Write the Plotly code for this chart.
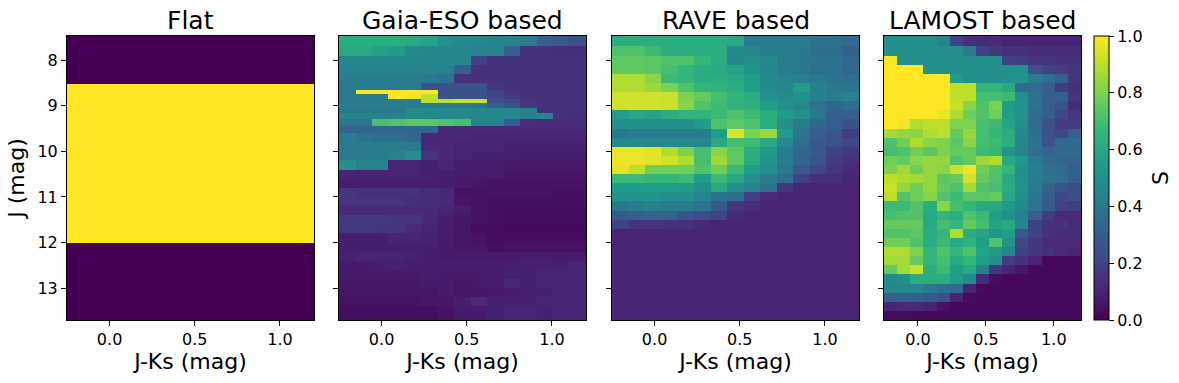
import plotly.graph_objects as go

titles = ["Flat", "Gaia-ESO based", "RAVE based", "LAMOST based"]
x_label = "J-Ks (mag)"
y_label = "J (mag)"
cbar_label = "S"
x_ticks = [0.0, 0.5, 1.0]
y_ticks = [8, 9, 10, 11, 12, 13]
cbar_ticks = [0.0, 0.2, 0.4, 0.6, 0.8, 1.0]

x_edges = [-0.25, -0.153, -0.057, 0.04, 0.137, 0.233, 0.33, 0.427, 0.523, 0.62, 0.717, 0.813, 0.91, 1.007, 1.103, 1.2]
y_edges = [7.47, 7.7, 7.9, 8.1, 8.3, 8.5, 8.7, 8.9, 9.1, 9.3, 9.5, 9.7, 9.9, 10.1, 10.3, 10.5, 10.7, 10.9, 11.1, 11.3,
           11.5, 11.7, 11.9, 12.1, 12.3, 12.5, 12.7, 12.9, 13.1, 13.3, 13.5, 13.7]

flat_x_edges = [-0.25, 1.2]
flat_y_edges = [7.47, 8.53, 12.0, 13.7]
flat_values = [[0.0], [1.0], [0.0]]

gaia_y_edges = [7.47, 7.7, 7.9, 8.1, 8.3, 8.5, 8.65, 8.75, 8.85, 8.95, 9.05, 9.15, 9.3, 9.45, 9.6, 9.8, 10.0, 10.2, 10.4,
                10.6, 10.8, 11.0, 11.2, 11.4, 11.6, 11.8, 12.0, 12.2, 12.4, 12.6, 12.8, 13.0, 13.2, 13.4, 13.7]
gaia_values = [
    [.62, .62, .62, .62, .6, .58, .5, .48, .47, .45, .45, .42, .3, .28, .25],
    [.6, .6, .57, .55, .48, .47, .47, .46, .45, .45, .3, .14, .14, .13, .13],
    [.46, .46, .46, .46, .46, .46, .46, .46, .2, .14, .14, .14, .14, .14, .14],
    [.45, .45, .45, .45, .45, .45, .44, .3, .14, .14, .14, .14, .14, .14, .14],
    [.42, .42, .42, .42, .42, .41, .38, .14, .14, .14, .14, .14, .14, .14, .14],
    [.42, .42, .42, .42, .42, .25, .25, .25, .25, .15, .14, .14, .14, .14, .14],
    [.42, 1, 1, 1, 1, 1, .25, .25, .25, .2, .15, .14, .14, .14, .14],
    [.42, .42, .42, 1, .98, .9, .25, .25, .25, .22, .18, .14, .14, .14, .14],
    [.42, .42, .42, .42, .43, .9, .9, .92, .92, .25, .22, .16, .14, .14, .14],
    [.42, .42, .42, .42, .42, .42, .42, .42, .4, .32, .25, .16, .14, .14, .14],
    [.4, .4, .4, .4, .48, .47, .47, .47, .47, .47, .47, .45, .14, .14, .14],
    [.45, .45, .45, .45, .47, .47, .47, .47, .47, .47, .46, .45, .46, .14, .13],
    [.38, .38, .7, .72, .74, .74, .72, .7, .45, .45, .3, .13, .12, .12, .12],
    [.32, .32, .33, .33, .33, .33, .11, .11, .11, .11, .11, .11, .11, .11, .11],
    [.42, .38, .36, .36, .33, .11, .11, .11, .1, .1, .1, .1, .1, .1, .1],
    [.42, .42, .42, .42, .42, .11, .11, .1, .1, .1, .09, .09, .09, .09, .09],
    [.42, .42, .42, .45, .5, .15, .11, .1, .09, .09, .09, .08, .08, .08, .08],
    [.5, .45, .45, .1, .1, .09, .1, .08, .08, .08, .07, .07, .07, .07, .07],
    [.1, .1, .1, .1, .1, .09, .08, .07, .07, .07, .06, .06, .06, .06, .06],
    [.08, .08, .08, .08, .08, .08, .08, .07, .06, .05, .05, .05, .05, .05, .05],
    [.16, .14, .14, .14, .14, .12, .11, .05, .05, .05, .05, .05, .05, .04, .04],
    [.15, .15, .15, .15, .13, .12, .11, .06, .05, .04, .04, .04, .04, .04, .04],
    [.11, .11, .11, .11, .11, .11, .1, .08, .05, .04, .03, .03, .03, .03, .03],
    [.17, .17, .17, .16, .15, .11, .08, .06, .05, .04, .03, .03, .03, .03, .03],
    [.17, .17, .16, .15, .12, .1, .08, .06, .03, .03, .02, .02, .02, .02, .02],
    [.08, .08, .08, .1, .1, .09, .07, .06, .05, .03, .03, .03, .03, .03, .03],
    [.08, .08, .08, .08, .08, .08, .07, .06, .06, .04, .05, .05, .05, .05, .05],
    [.09, .1, .1, .1, .09, .08, .07, .07, .07, .07, .07, .08, .08, .07, .07],
    [.07, .07, .08, .09, .08, .08, .08, .08, .08, .08, .09, .09, .09, .09, .1],
    [.07, .07, .07, .07, .07, .08, .07, .07, .07, .08, .09, .09, .1, .1, .1],
    [.06, .06, .06, .06, .06, .07, .07, .06, .07, .08, .11, .09, .1, .1, .1],
    [.06, .06, .06, .06, .06, .06, .07, .06, .06, .07, .08, .09, .09, .1, .1],
    [.05, .05, .05, .05, .05, .06, .06, .08, .12, .09, .09, .09, .1, .1, .1],
    [.04, .04, .04, .04, .04, .04, .05, .07, .07, .09, .1, .1, .09, .1, .1],
]

rave_values = [
    [.62, .62, .62, .62, .62, .62, .62, .6, .42, .42, .42, .42, .38, .38, .34],
    [.72, .72, .68, .62, .62, .62, .62, .48, .46, .42, .42, .4, .36, .36, .3],
    [.75, .75, .74, .72, .72, .66, .62, .46, .5, .48, .42, .4, .38, .38, .34],
    [.75, .75, .74, .7, .66, .62, .6, .58, .52, .46, .42, .4, .36, .36, .33],
    [.88, .88, .82, .68, .66, .62, .62, .6, .55, .48, .45, .44, .4, .38, .36],
    [.88, .88, .85, .8, .72, .66, .64, .62, .56, .48, .46, .55, .44, .4, .38],
    [.93, .93, .93, .92, .8, .76, .7, .65, .62, .5, .48, .5, .44, .42, .44],
    [.93, .93, .93, .92, .82, .72, .68, .64, .64, .56, .5, .46, .38, .33, .35],
    [.56, .6, .58, .62, .65, .65, .68, .72, .68, .62, .55, .5, .4, .3, .3],
    [.5, .5, .5, .5, .5, .55, .72, .75, .72, .62, .5, .42, .33, .3, .25],
    [.4, .42, .42, .42, .42, .42, .55, .95, .8, .85, .55, .38, .3, .27, .18],
    [.47, .47, .47, .47, .47, .47, .6, .7, .68, .6, .47, .36, .28, .25, .22],
    [.97, .97, .96, .88, .8, .7, .82, .75, .62, .55, .42, .33, .28, .2, .17],
    [.97, .97, .96, .93, .88, .7, .85, .75, .62, .52, .42, .33, .26, .18, .14],
    [.96, .9, .78, .78, .78, .72, .78, .68, .55, .5, .4, .28, .22, .15, .11],
    [.68, .68, .66, .66, .68, .55, .68, .6, .5, .42, .36, .2, .14, .13, .1],
    [.55, .55, .56, .56, .55, .5, .6, .5, .45, .38, .15, .1, .1, .1, .1],
    [.52, .52, .52, .5, .5, .46, .38, .36, .2, .12, .1, .1, .1, .1, .1],
    [.4, .42, .44, .42, .42, .38, .28, .16, .13, .1, .1, .1, .1, .1, .1],
    [.28, .3, .32, .32, .26, .24, .2, .12, .1, .1, .1, .1, .1, .1, .1],
    [.2, .15, .15, .14, .14, .12, .1, .1, .1, .1, .1, .1, .1, .1, .1],
    [.1, .1, .1, .1, .1, .1, .1, .1, .1, .1, .1, .1, .1, .1, .1],
    [.1, .1, .1, .1, .1, .1, .1, .1, .1, .1, .1, .1, .1, .1, .1],
    [.1, .1, .1, .1, .1, .1, .1, .1, .1, .1, .1, .1, .1, .1, .1],
    [.1, .1, .1, .1, .1, .1, .1, .1, .1, .1, .1, .1, .1, .1, .1],
    [.1, .1, .1, .1, .1, .1, .1, .1, .1, .1, .1, .1, .1, .1, .1],
    [.1, .1, .1, .1, .1, .1, .1, .1, .1, .1, .1, .1, .1, .1, .1],
    [.1, .1, .1, .1, .1, .1, .1, .1, .1, .1, .1, .1, .1, .1, .1],
    [.1, .1, .1, .1, .1, .1, .1, .1, .1, .1, .1, .1, .1, .1, .1],
    [.1, .1, .1, .1, .1, .1, .1, .1, .1, .1, .1, .1, .1, .1, .1],
    [.1, .1, .1, .1, .1, .1, .1, .1, .1, .1, .1, .1, .1, .1, .1],
]

lamost_values = [
    [.5, .5, .5, .5, .45, .2, .13, .12, .12, .1, .1, .1, .1, .1, .1],
    [.5, .5, .5, .5, .5, .5, .42, .2, .16, .14, .14, .12, .12, .12, .12],
    [1, .5, .5, .5, .5, .5, .5, .5, .5, .2, .18, .15, .15, .14, .14],
    [1, 1, 1, .5, .5, .5, .5, .5, .5, .5, .5, .25, .2, .18, .15],
    [1, 1, 1, 1, 1, .55, .5, .5, .5, .5, .52, .42, .36, .3, .15],
    [1, 1, 1, 1, 1, .9, .9, .66, .66, .6, .35, .35, .3, .18, .14],
    [1, 1, 1, 1, 1, .9, .9, .7, .7, .68, .5, .38, .3, .3, .15],
    [1, 1, 1, 1, 1, .92, .82, .72, .8, .55, .52, .38, .3, .25, .12],
    [1, 1, 1, 1, .97, .88, .78, .72, .78, .55, .52, .35, .3, .22, .16],
    [1, .98, .88, .9, .9, .8, .8, .7, .68, .58, .5, .35, .25, .18, .18],
    [.86, .84, .82, .88, .9, .76, .84, .7, .66, .62, .48, .36, .25, .22, .3],
    [.72, .78, .88, .82, .8, .74, .82, .7, .68, .62, .46, .38, .26, .34, .34],
    [.7, .72, .78, .74, .8, .76, .76, .68, .66, .52, .46, .36, .32, .34, .34],
    [.78, .76, .82, .84, .84, .72, .76, .85, .88, .6, .54, .42, .34, .32, .32],
    [.8, .86, .78, .84, .82, .92, .98, .78, .72, .66, .5, .44, .36, .34, .3],
    [.9, .88, .86, .84, .74, .76, .94, .76, .72, .6, .5, .42, .38, .36, .3],
    [.92, .84, .78, .84, .76, .72, .86, .72, .7, .62, .52, .42, .32, .26, .24],
    [.9, .72, .78, .82, .72, .68, .74, .74, .76, .6, .5, .4, .3, .22, .24],
    [.68, .68, .72, .62, .82, .7, .66, .6, .6, .54, .48, .38, .28, .2, .18],
    [.7, .72, .72, .6, .66, .62, .72, .68, .56, .5, .44, .3, .18, .12, .12],
    [.76, .76, .76, .6, .7, .66, .76, .7, .58, .6, .46, .2, .14, .14, .12],
    [.72, .72, .74, .62, .66, .88, .62, .58, .52, .56, .28, .2, .14, .12, .12],
    [.78, .78, .72, .62, .68, .6, .64, .56, .72, .52, .22, .16, .12, .12, .12],
    [.88, .88, .8, .66, .72, .66, .72, .58, .54, .46, .2, .16, .14, .12, .1],
    [.86, .86, .76, .66, .7, .6, .66, .56, .5, .18, .14, .1, .02, .02, .02],
    [.76, .86, .92, .62, .68, .56, .6, .44, .15, .1, .06, .02, .02, .02, .02],
    [.48, .5, .62, .62, .62, .55, .48, .12, .04, .02, .02, .02, .02, .02, .02],
    [.46, .46, .46, .42, .36, .34, .1, .03, .02, .02, .02, .02, .02, .02, .02],
    [.3, .32, .3, .28, .26, .1, .03, .02, .02, .02, .02, .02, .02, .02, .02],
    [.1, .12, .12, .1, .05, .02, .02, .02, .02, .02, .02, .02, .02, .02, .02],
    [.03, .03, .02, .02, .02, .02, .02, .02, .02, .02, .02, .02, .02, .02, .02],
]

W, H = 1179, 383
panels_px = [(67, 314), (339, 586), (612, 859), (884, 1081)]
top_px, bottom_px = 36, 320
FONT = "DejaVu Sans"


def px(v):
    return v / W


def py(v):
    return 1 - v / H


fig = go.Figure()
series = [
    (flat_x_edges, flat_y_edges, flat_values),
    (x_edges, gaia_y_edges, gaia_values),
    (x_edges, y_edges, rave_values),
    (x_edges, y_edges, lamost_values),
]
for i, (xs, ys, zs) in enumerate(series):
    suffix = "" if i == 0 else str(i + 1)
    trace = dict(x=xs, y=ys, z=zs, zmin=0, zmax=1, colorscale="Viridis", xaxis="x" + suffix, yaxis="y" + suffix,
                 showscale=i == 3)
    if i == 3:
        trace["colorbar"] = dict(
            x=px(1094), xanchor="left", xref="paper", y=py(bottom_px), yanchor="bottom", yref="paper",
            len=(bottom_px - top_px) / H, lenmode="fraction", thickness=15, thicknessmode="pixels",
            outlinecolor="black", outlinewidth=1, ticks="outside", ticklen=5, tickcolor="black",
            tickvals=cbar_ticks, tickformat=".1f", tickfont=dict(family=FONT, size=16, color="black"),
            xpad=0, ypad=0,
        )
    fig.add_trace(go.Heatmap(**trace))

layout = dict(width=W, height=H, margin=dict(l=0, r=0, t=0, b=0), paper_bgcolor="white", plot_bgcolor="white",
              font=dict(family=FONT, color="black"), showlegend=False, annotations=[])
for i, (x0, x1) in enumerate(panels_px):
    suffix = "" if i == 0 else str(i + 1)
    layout["xaxis" + suffix] = dict(
        domain=[px(x0), px(x1)], anchor="y" + suffix, range=[-0.25, 1.2], tickvals=x_ticks, tickformat=".1f",
        ticks="outside", ticklen=5, tickcolor="black", showline=True, linecolor="black", linewidth=1, mirror=True,
        showgrid=False, zeroline=False, tickfont=dict(family=FONT, size=16, color="black"),
        title=dict(text=x_label, font=dict(family=FONT, size=22, color="black"), standoff=4),
    )
    layout["yaxis" + suffix] = dict(
        domain=[py(bottom_px), py(top_px)], anchor="x" + suffix, range=[13.7, 7.47], tickvals=y_ticks,
        showticklabels=i == 0, ticks="outside", ticklen=5, tickcolor="black", showline=True, linecolor="black",
        linewidth=1, mirror=True, showgrid=False, zeroline=False, tickfont=dict(family=FONT, size=16, color="black"),
    )
    if i == 0:
        layout["yaxis"]["title"] = dict(text=y_label, font=dict(family=FONT, size=22, color="black"), standoff=6)
    layout["annotations"].append(dict(
        text=titles[i], x=px((x0 + x1) / 2), y=py(35), xref="paper", yref="paper", xanchor="center",
        yanchor="bottom", showarrow=False, borderpad=0, borderwidth=0, font=dict(family=FONT, size=25, color="black"),
    ))
layout["annotations"].append(dict(
    text=cbar_label, x=px(1160), y=py((top_px + bottom_px) / 2), xref="paper", yref="paper", xanchor="center",
    yanchor="middle", showarrow=False, textangle=-90, font=dict(family=FONT, size=22, color="black"),
))
fig.update_layout(**layout)
fig.write_html("out.html", config={"displayModeBar": False}, post_script="document.body.style.margin='0';")
